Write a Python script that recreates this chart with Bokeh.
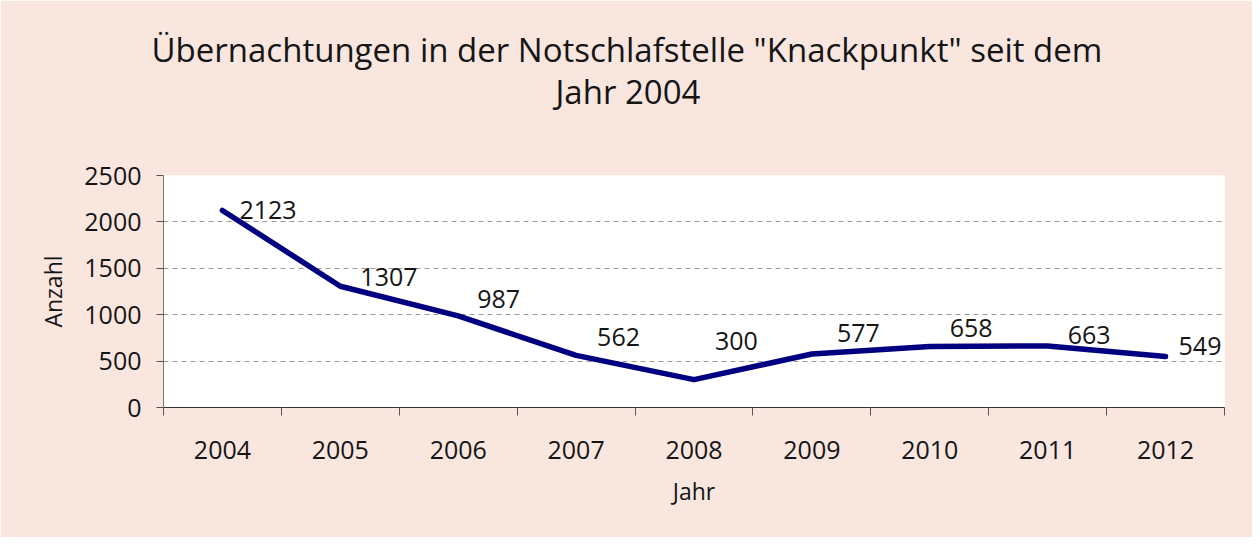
from bokeh.plotting import figure
from bokeh.models import (Range1d, FixedTicker, Title, ColumnDataSource)
from bokeh.core.properties import value
from bokeh.embed import file_html
from bokeh.resources import INLINE

# ---- data ----
years = ["2004", "2005", "2006", "2007", "2008", "2009", "2010", "2011", "2012"]
counts = [2123, 1307, 987, 562, 300, 577, 658, 663, 549]
y_ticks = [0, 500, 1000, 1500, 2000, 2500]
title_line1 = 'Übernachtungen in der Notschlafstelle "Knackpunkt" seit dem'
title_line2 = "Jahr 2004"
x_label = "Jahr"
y_label = "Anzahl"

# ---- style (label placement, px) ----
label_dx = [17, 20, 19, 21, 21, 25, 20, 20, 13]
label_dy = [0, -9, -17, -18, -39, -21, -18, -11, -11]

FONT = "Open Sans"
PINK = "#F9E6DF"
TXT = "#151515"

xpos = [i + 0.5 for i in range(len(years))]
src = ColumnDataSource(dict(x=xpos, y=counts, lab=[str(c) for c in counts],
                            dx=label_dx, dy=label_dy))

p = figure(width=1252, height=537, output_backend="svg", toolbar_location=None,
           x_range=Range1d(0, len(years)), y_range=Range1d(0, 2500),
           background_fill_color="white", border_fill_color=PINK,
           min_border_left=163, min_border_right=28, min_border_top=175,
           min_border_bottom=130, outline_line_color=None)

# title: two lines, stacked above a spacer (innermost first)
spacer = Title(text=" ", text_font=FONT, text_font_size="10px", standoff=46,
               text_color=PINK)
t2 = Title(text=title_line2, align="left", offset=392, text_font=FONT,
           text_font_size="33px", text_font_style="normal", text_color=TXT,
           standoff=0)
t1 = Title(text=title_line1, align="left", offset=-12, text_font=FONT,
           text_font_size="33px", text_font_style="normal", text_color=TXT,
           standoff=-10)
p.add_layout(spacer, "above")
p.add_layout(t2, "above")
p.add_layout(t1, "above")

# x axis
xa = p.xaxis[0]
xa.ticker = FixedTicker(ticks=xpos, minor_ticks=list(range(len(years) + 1)))
xa.major_label_overrides = {x: y for x, y in zip(xpos, years)}
xa.major_tick_out = 0
xa.major_tick_in = 0
xa.minor_tick_out = 8
xa.minor_tick_in = 0
xa.minor_tick_line_color = "#555555"
xa.axis_line_color = "#333333"
xa.major_label_standoff = 25
xa.major_label_text_font = FONT
xa.major_label_text_font_size = "25px"
xa.major_label_text_color = TXT
xa.axis_label = x_label
xa.axis_label_text_font = FONT
xa.axis_label_text_font_size = "23px"
xa.axis_label_text_font_style = "normal"
xa.axis_label_text_color = TXT
xa.axis_label_standoff = 13

# y axis
ya = p.yaxis[0]
ya.ticker = FixedTicker(ticks=y_ticks)
ya.major_tick_out = 7
ya.major_tick_in = 0
ya.minor_tick_out = 0
ya.minor_tick_in = 0
ya.major_tick_line_color = "#555555"
ya.axis_line_color = "#777777"
ya.major_label_standoff = 15
ya.major_label_text_font = FONT
ya.major_label_text_font_size = "25px"
ya.major_label_text_color = TXT
ya.axis_label = y_label
ya.axis_label_text_font = FONT
ya.axis_label_text_font_size = "23px"
ya.axis_label_text_font_style = "normal"
ya.axis_label_text_color = TXT
ya.axis_label_standoff = 12

# grid
p.xgrid.grid_line_color = None
p.ygrid.ticker = FixedTicker(ticks=y_ticks)
p.ygrid.grid_line_color = "#9a9a9a"
p.ygrid.grid_line_dash = "5 4"
p.ygrid.grid_line_width = 1

# line
p.line("x", "y", source=src, line_color="#000080", line_width=5.5,
       line_join="round", line_cap="round")

# data labels
p.text("x", "y", text="lab", source=src, x_offset="dx", y_offset="dy",
       text_align="left", text_baseline="middle", text_font=value(FONT),
       text_font_size="25px", text_color=TXT)

open("out.html", "w").write(file_html(p, INLINE))
